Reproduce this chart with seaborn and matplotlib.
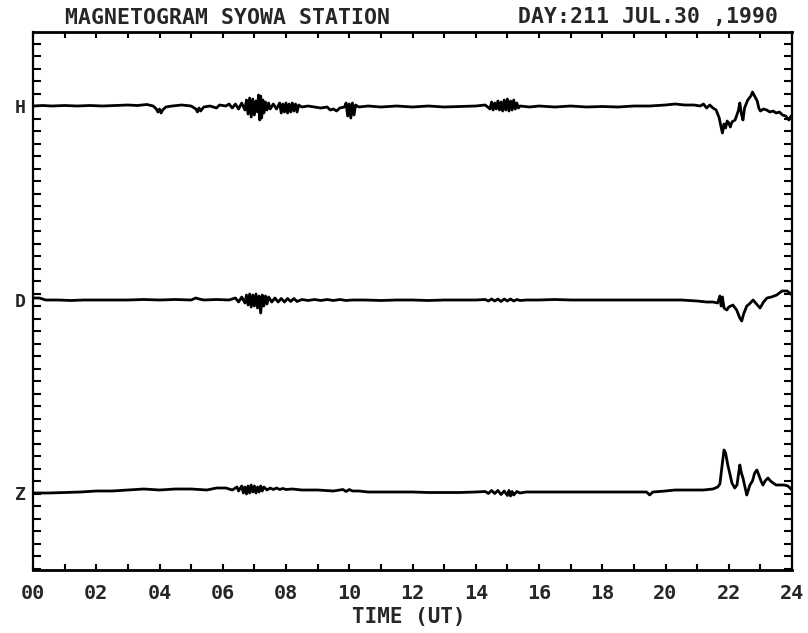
import numpy as np
import pandas as pd
import matplotlib
matplotlib.use("Agg")
import matplotlib.pyplot as plt
import matplotlib.transforms as mtransforms
import seaborn as sns

# ---------------- data (deviation from each trace's quiet level) ----------------
H_t = [0.0, 0.3, 0.6, 1.0, 1.4, 1.8, 2.2, 2.6, 3.0, 3.3, 3.6, 3.8, 3.9, 3.95, 4.0, 4.05, 4.1, 4.2,
       4.4, 4.7, 5.0, 5.15, 5.2, 5.25, 5.3, 5.4, 5.6, 5.8, 5.9, 6.1, 6.2, 6.3, 6.4, 6.5, 6.6, 6.7,
       6.75, 6.8, 6.85, 6.9, 6.95, 7.0, 7.05, 7.1, 7.13, 7.17, 7.2, 7.23, 7.27, 7.3, 7.35, 7.4, 7.45,
       7.5, 7.6, 7.7, 7.8, 7.85, 7.9, 7.95, 8.0, 8.05, 8.1, 8.15, 8.2, 8.25, 8.3, 8.35, 8.4, 8.5,
       8.7, 8.9, 9.1, 9.3, 9.4, 9.5, 9.6, 9.7, 9.85, 9.9, 9.95, 10.0, 10.05, 10.1, 10.15, 10.2,
       10.3, 10.6, 11.0, 11.5, 12.0, 12.5, 13.0, 13.5, 14.0, 14.3, 14.45, 14.5, 14.55, 14.6, 14.65,
       14.7, 14.75, 14.8, 14.85, 14.9, 14.95, 15.0, 15.05, 15.1, 15.15, 15.2, 15.25, 15.3, 15.35,
       15.4, 15.7, 16.0, 16.5, 17.0, 17.5, 18.0, 18.5, 19.0, 19.5, 20.0, 20.3, 20.6, 20.9, 21.1,
       21.2, 21.3, 21.4, 21.5, 21.6, 21.7, 21.75, 21.8, 21.85, 21.9, 21.95, 22.0, 22.05, 22.1, 22.2,
       22.3, 22.35, 22.4, 22.45, 22.5, 22.6, 22.7, 22.75, 22.8, 22.9, 22.95, 23.0, 23.1, 23.2, 23.3,
       23.4, 23.5, 23.6, 23.7, 23.8, 23.9, 23.95, 24.0]
H_v = [0, 0.5, 0, 0.5, 0, 0.5, 0, 0.5, 1, 0.5, 1.5, 0, -3, -6, -3, -7, -4, -1,
       0, 1, 0, -3, -6, -2, -5, -1, 0, -2, 1, 0, 2, -2, 2, -3, 3, -4,
       6, -8, 8, -11, 7, -9, 5, -6, 11, -14, 10, -12, 6, -7, 4, -4, 3,
       -3, 2, -3, 3, -7, 2, -6, 3, -7, 2, -6, 3, -5, 2, -6, 1, -1,
       0, -1, -2, -1, -4, -3, -5, -2, -1, 3, -10, 2, -12, 3, -9, 1,
       -1, 0, -1, 0, -1, 0, -1, -0.5, 0, 1, -3, 4, -4, 3, -3,
       5, -4, 4, -5, 6, -4, 7, -5, 5, -4, 6, -3, 3, -2,
       0, -1, 0, -1, 0, -1, -0.5, -1, 0, 0, 1, 2, 1, 1, 0,
       2, -2, 1, -2, -4, -12, -20, -27, -18, -22, -15, -17, -21, -16, -14,
       -5, 3, -8, -14, -2, 6, 10, 14, 11, 5, -2, -5, -3, -4, -6,
       -5, -7, -6, -9, -10, -14, -11, -9]

D_t = [0.0, 0.2, 0.4, 0.8, 1.2, 1.6, 2.0, 2.5, 3.0, 3.5, 4.0, 4.5, 5.0, 5.15, 5.25, 5.4, 5.8, 6.2,
       6.4, 6.5, 6.6, 6.7, 6.75, 6.8, 6.85, 6.9, 6.95, 7.0, 7.05, 7.1, 7.15, 7.2, 7.25, 7.3, 7.35,
       7.4, 7.45, 7.55, 7.65, 7.75, 7.85, 7.95, 8.05, 8.15, 8.25, 8.35, 8.5, 8.7, 8.9, 9.1, 9.3,
       9.5, 9.7, 9.9, 10.1, 10.5, 11.0, 11.5, 12.0, 12.5, 13.0, 13.5, 14.0, 14.3, 14.4, 14.5, 14.6,
       14.7, 14.8, 14.9, 15.0, 15.1, 15.2, 15.3, 15.4, 15.6, 16.0, 16.5, 17.0, 17.5, 18.0, 18.5,
       19.0, 19.5, 20.0, 20.5, 21.0, 21.3, 21.5, 21.65, 21.72, 21.76, 21.8, 21.85, 21.94, 22.0,
       22.13, 22.25, 22.35, 22.41, 22.47, 22.57, 22.65, 22.77, 22.85, 22.99, 23.1, 23.21, 23.35,
       23.52, 23.68, 23.85, 24.0]
D_v = [2, 2, 0, 0, -0.5, 0, 0, 0, 0, 0.5, 0, 0.5, 0, 2, 1, 0, 0.5, 0,
       2, -2, 3, -3, 5, -5, 6, -7, 5, -6, 6, -8, 4, -13, 5, -6, 4,
       -4, 3, -2, 2, -2, 1.5, -2, 1.5, -1.5, 1.5, -1.5, 0.5, -0.5, 0.5, -0.5, 0.5,
       -0.5, 0.5, -0.5, 0, 0, -0.5, 0, 0, -0.5, 0, 0, 0, 0.5, -1, 1, -1,
       1, -1.5, 1, -1, 1, -1, 0.5, -0.5, 0, 0, 0.5, 0, 0, 0, 0,
       0, 0, 0, 0, -1, -2, -2, -3, 4, -6, 3, -8, -10, -7,
       -5, -10, -18, -21, -14, -6, -4, 0, -3, -8, -2, 2, 3,
       5, 9, 9, 5]

Z_t = [0.0, 0.5, 1.0, 1.5, 2.0, 2.5, 3.0, 3.5, 4.0, 4.5, 5.0, 5.5, 5.8, 6.1, 6.3, 6.45, 6.5, 6.6,
       6.65, 6.7, 6.75, 6.8, 6.85, 6.9, 6.95, 7.0, 7.05, 7.1, 7.15, 7.2, 7.25, 7.3, 7.4, 7.5, 7.6,
       7.7, 7.8, 7.9, 8.0, 8.2, 8.5, 9.0, 9.5, 9.8, 9.9, 10.0, 10.1, 10.3, 10.6, 11.0, 11.5, 12.0,
       12.5, 13.0, 13.5, 14.0, 14.3, 14.4, 14.5, 14.6, 14.7, 14.8, 14.9, 15.0, 15.05, 15.1, 15.15,
       15.2, 15.3, 15.4, 15.6, 16.0, 16.5, 17.0, 17.5, 18.0, 18.5, 19.0, 19.4, 19.5, 19.6, 20.0,
       20.3, 20.6, 20.9, 21.2, 21.5, 21.65, 21.72, 21.78, 21.85, 21.9, 21.97, 22.03, 22.1, 22.19,
       22.26, 22.35, 22.4, 22.45, 22.52, 22.57, 22.62, 22.67, 22.75, 22.82, 22.89, 22.95, 23.02,
       23.08, 23.15, 23.24, 23.32, 23.4, 23.5, 23.62, 23.75, 23.87, 24.0]
Z_v = [0, 0, 0.5, 1, 2, 2, 3, 4, 3, 4, 4, 3, 5, 5, 3, 6, 2, 7,
       0, 6, -1, 7, 0, 8, 1, 7, 0, 6, 1, 7, 2, 6, 3, 5, 3.5,
       5, 3.5, 4.5, 3.5, 4, 3, 3, 2, 3.5, 1.5, 3.5, 2, 2, 1, 1, 1, 1,
       0.5, 0.5, 0.5, 1, 1.5, -0.5, 2.5, -0.5, 2.5, -1.5, 2, -2.5, 2.5, -3, 1.5,
       -2, 1.5, 0, 1, 1, 1, 1, 1, 1, 1, 1, 1, -2, 1, 2,
       3, 3, 3, 3, 4, 6, 9, 25, 43, 40, 28, 20, 10, 5,
       8, 28, 20, 15, 5, -2, 3, 8, 12, 20, 23, 18, 12,
       8, 12, 15, 12, 10, 8, 8, 8, 7, 3]

components = ["H", "D", "Z"]
hour_labels = ["00", "02", "04", "06", "08", "10", "12", "14", "16", "18", "20", "22", "24"]

# ---------------- layout ----------------
W, Hh = 808, 633
base = {"H": 464, "D": 270, "Z": 77}          # quiet level of each trace (axis units = px)
series = {"H": (H_t, H_v), "D": (D_t, D_v), "Z": (Z_t, Z_v)}

sns.set_style("white")
plt.rcParams["font.family"] = ["DejaVu Sans Mono", "DejaVu Sans"]

fig = plt.figure(figsize=(W / 100, Hh / 100), dpi=100)
ax = fig.add_axes([33 / W, 63 / Hh, 759 / W, 538 / Hh])

frames = []
for c in components:
    t, v = series[c]
    frames.append(pd.DataFrame({"time": t, "value": np.array(v, float) + base[c], "comp": c}))
df = pd.concat(frames, ignore_index=True)

for c in components:
    sub = df[df["comp"] == c]
    sns.lineplot(data=sub, x="time", y="value", ax=ax, color="black", lw=2.0,
                 estimator=None, sort=False, legend=False)

ax.set_xlim(0, 24)
ax.set_ylim(0, 538)
ax.set_xlabel("")
ax.set_ylabel("")

ax.set_xticks(list(range(0, 25, 2)))
ax.set_xticklabels(hour_labels, fontsize=14.5, fontweight="bold")
ax.set_xticks(list(range(1, 24, 2)), minor=True)
ax.tick_params(axis="x", which="both", direction="in", length=4, width=1.5,
               top=True, bottom=True, pad=10, color="black")

yt = [464 - 12.5 * k for k in range(-5, 38)]
ax.set_yticks(yt)
ax.tick_params(axis="y", direction="in", length=6, width=1.5, left=True, right=True,
               labelleft=False, color="black")

for s in ["top", "bottom"]:
    ax.spines[s].set_linewidth(2.0)
for s in ["left", "right"]:
    ax.spines[s].set_linewidth(1.6)
for s in ax.spines.values():
    s.set_color("black")

trans = mtransforms.blended_transform_factory(ax.transAxes, ax.transData)
for c in components:
    ax.text(-13 / 759, base[c] - 2, c, transform=trans, ha="center", va="center",
            fontsize=13, fontweight="bold")

fig.text(65 / W, 1 - 17.5 / Hh, "MAGNETOGRAM SYOWA STATION", ha="left", va="center",
         fontsize=15.5, fontweight="bold")
fig.text(778 / W, 1 - 17.5 / Hh, "DAY:211 JUL.30 ,1990", ha="right", va="center",
         fontsize=15.5, fontweight="bold")
fig.text(409 / W, 1 - 617.5 / Hh, "TIME (UT)", ha="center", va="center",
         fontsize=15, fontweight="bold")

fig.savefig("out.png", dpi=100, facecolor="white")
